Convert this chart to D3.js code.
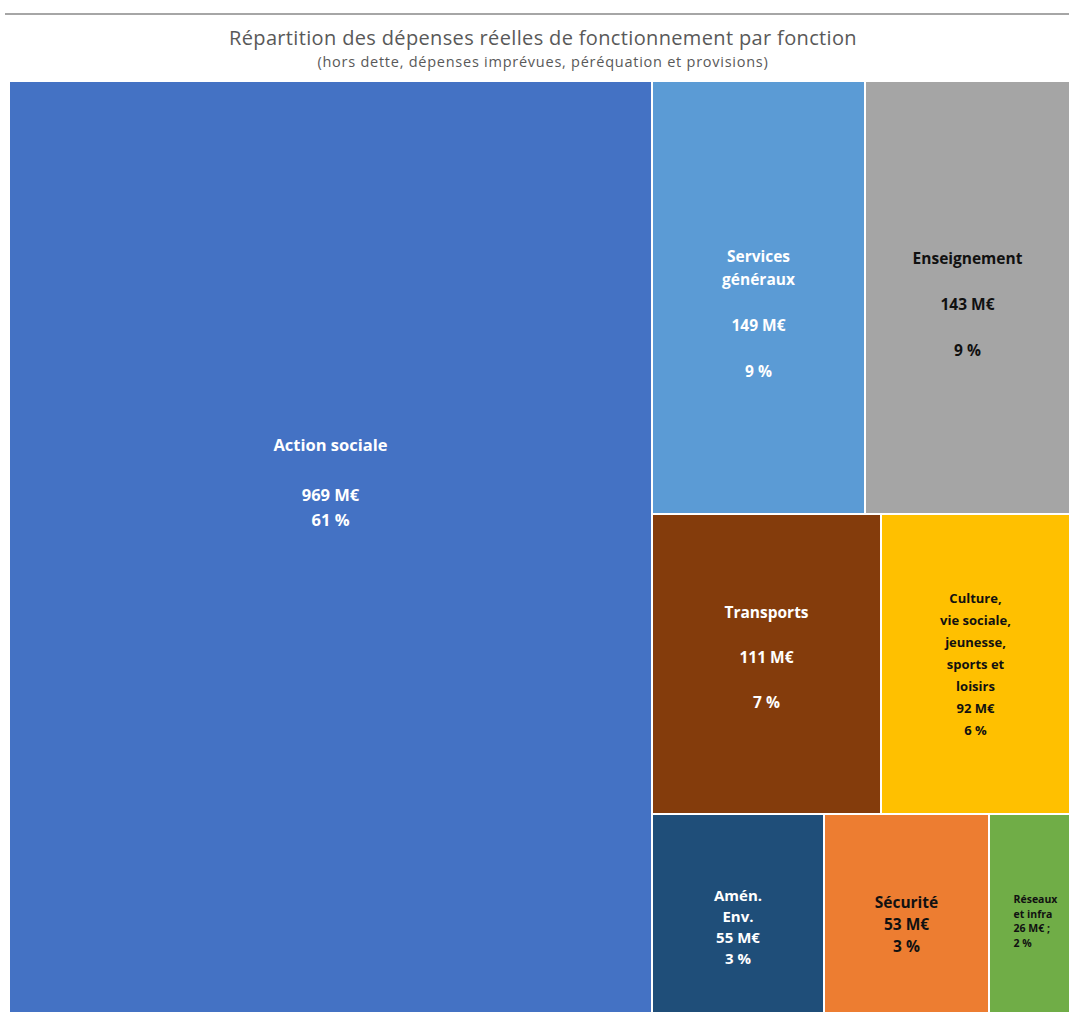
<!DOCTYPE html>
<html><head><meta charset="utf-8">
<script src="https://cdn.jsdelivr.net/npm/d3@7"></script>
<style>
html,body{margin:0;padding:0;background:#fff;}
svg{display:block;}
</style></head>
<body>
<svg id="chart" width="1069" height="1012"></svg>
<script>
// ---- data ----
const titleText = "Répartition des dépenses réelles de fonctionnement par fonction";
const subtitleText = "(hors dette, dépenses imprévues, péréquation et provisions)";
const categories = ["Action sociale","Services généraux","Enseignement","Transports",
  "Culture, vie sociale, jeunesse, sports et loisirs","Amén. Env.","Sécurité","Réseaux et infra"];
const values = [969,149,143,111,92,55,53,26];
const percents = [61,9,9,7,6,3,3,2];
// how each name is wrapped in its tile
const nameLines = [
  ["Action sociale"],
  ["Services","généraux"],
  ["Enseignement"],
  ["Transports"],
  ["Culture,","vie sociale,","jeunesse,","sports et","loisirs"],
  ["Amén.","Env."],
  ["Sécurité"],
  ["Réseaux","et infra"]
];
// group of each tile: 0 = left column, 1..3 = rows of the right column
const groups = [0,1,1,2,2,3,3,3];
const valueSuffix = [" M€"," M€"," M€"," M€"," M€"," M€"," M€"," M€ ;"];

// ---- styles / label layout ----
const colors = ["#4472C4","#5B9BD5","#A5A5A5","#843C0C","#FFC000","#1F4E79","#ED7D31","#70AD47"];
const textColors = ["#ffffff","#ffffff","#111111","#ffffff","#111111","#ffffff","#111111","#111111"];
const spaced = [true,true,true,true,false,false,false,false];
const labelFontSize = [16.5,15.5,15.5,15.5,13,15,15.5,10.5];
const labelLineHeight = [25,23,23,22.5,22,21,22,14.5];
const labelShiftY = [-64,17,7,-6,0,14,11,8];
const labelShiftX = [0,0,0,0,0,0,0,6];

const svg = d3.select("#chart");
const W = 1069, H = 1012;
const padLeft = 10, padTop = 82;

svg.append("line").attr("x1",5).attr("x2",W).attr("y1",14).attr("y2",14)
  .attr("stroke","#a6a6a6").attr("stroke-width",2);
svg.append("text").attr("x",543).attr("y",45).attr("text-anchor","middle")
  .attr("font-family","Open Sans").attr("font-size",20).attr("letter-spacing",0.35)
  .attr("fill","#595959").text(titleText);
svg.append("text").attr("x",543).attr("y",67).attr("text-anchor","middle")
  .attr("font-family","Open Sans").attr("font-size",14.5).attr("letter-spacing",0.75)
  .attr("fill","#595959").text(subtitleText);

const leaves = categories.map((c,i)=>({i, name:c, value:values[i]}));
const rows = d3.groups(leaves.filter(d=>groups[d.i]>0), d=>groups[d.i])
  .map(([gi,ch])=>({name:"row"+gi, children:ch}));
const rootData = {name:"root", children:[leaves[0], {name:"rest", children:rows}]};

const root = d3.hierarchy(rootData).sum(d=>d.children?0:d.value);
d3.treemap().tile(d3.treemapSliceDice).size([W-padLeft, H-padTop]).paddingInner(2).round(true)(root);

const g = svg.append("g").attr("transform",`translate(${padLeft},${padTop})`);
const cells = g.selectAll("g.cell").data(root.leaves()).join("g").attr("class","cell");
cells.append("rect")
  .attr("x",d=>d.x0).attr("y",d=>d.y0)
  .attr("width",d=>d.x1-d.x0).attr("height",d=>d.y1-d.y0)
  .attr("fill",d=>colors[d.data.i]);

cells.each(function(d){
  const i = d.data.i;
  let lines = nameLines[i].slice();
  if (spaced[i]) lines.push("");
  lines.push(values[i] + valueSuffix[i]);
  if (spaced[i] && i!==0) lines.push("");
  lines.push(percents[i] + " %");
  const small = (d.x1-d.x0) < 90;
  const fs = labelFontSize[i], lh = labelLineHeight[i];
  const cx = (d.x0+d.x1)/2 + labelShiftX[i], cy = (d.y0+d.y1)/2 + labelShiftY[i];
  const y0 = cy - (lines.length-1)*lh/2;
  const t = d3.select(this).append("text")
    .attr("font-family","Open Sans").attr("font-weight","bold")
    .attr("font-size",fs).attr("fill",textColors[i])
    .attr("text-anchor", small ? "start" : "middle");
  lines.forEach((ln,k)=>{
    t.append("tspan").attr("x",cx).attr("y",y0+k*lh).attr("dy","0.35em").text(ln);
  });
  if (small){
    const w = d3.max(t.selectAll("tspan").nodes(), n=>n.getComputedTextLength());
    t.selectAll("tspan").attr("x", cx - w/2);
  }
});
</script>
</body></html>
